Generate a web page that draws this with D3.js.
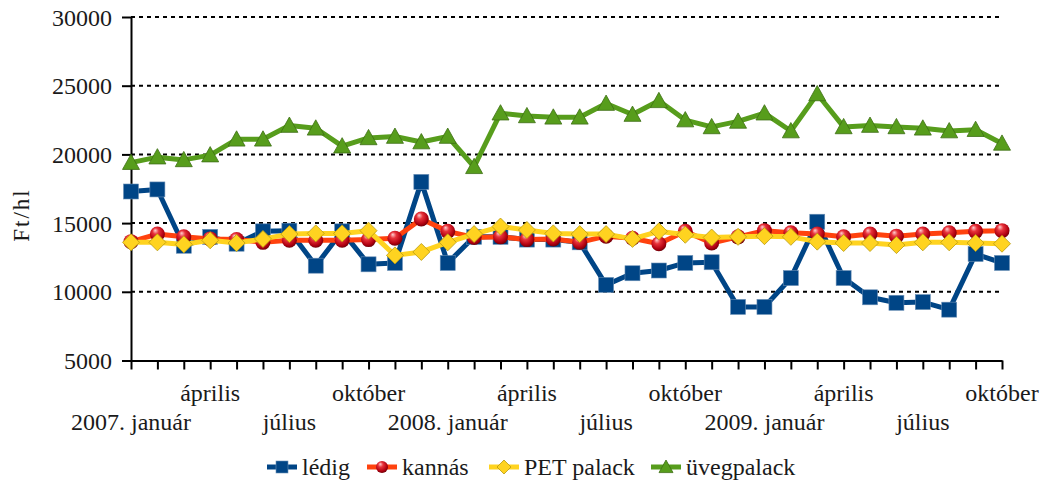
<!DOCTYPE html>
<html>
<head>
<meta charset="utf-8">
<script src="https://cdn.jsdelivr.net/npm/d3@7"></script>
<style>
  body { margin: 0; background: #fff; }
</style>
</head>
<body>
<svg id="chart" width="1052" height="485" font-family="'Liberation Serif', 'Times New Roman', serif"></svg>
<script>
// 2007. január .. 2009. október, monthly
const months = d3.range(34);
const xLabelsTop = { 3: "április", 9: "október", 15: "április", 21: "október", 27: "április", 33: "október" };
const xLabelsBottom = { 0: "2007. január", 6: "július", 12: "2008. január", 18: "július", 24: "2009. január", 30: "július" };
const yTicks = [5000, 10000, 15000, 20000, 25000, 30000];

const ledig = [17300, 17450, 13350, 14000, 13500, 14400, 14450, 11900, 14400, 12000,
  12100, 18000, 12100, 14000, 14000, 13800, 13800, 13600, 10500, 11350,
  11550, 12100, 12150, 8900, 8900, 11000, 15100, 11000, 9600, 9200,
  9250, 8700, 12750, 12100];
const kannas = [13650, 14200, 14000, 13850, 13800, 13600, 13750, 13750, 13750, 13800,
  13900, 15300, 14400, 13950, 14000, 13800, 13850, 13600, 14050, 13900,
  13500, 14400, 13550, 14000, 14450, 14300, 14200, 14000, 14200, 14050,
  14200, 14300, 14400, 14450];
const pet = [13600, 13600, 13450, 13750, 13550, 13850, 14200, 14250, 14250, 14450,
  12650, 12900, 13600, 14200, 14750, 14500, 14250, 14200, 14200, 13850,
  14400, 14150, 13950, 14000, 14050, 14000, 13650, 13550, 13550, 13400,
  13600, 13600, 13550, 13500];
const uveg = [19400, 19800, 19600, 19950, 21100, 21100, 22100, 21900, 20600, 21200,
  21300, 20900, 21300, 19100, 23000, 22800, 22700, 22700, 23700, 22900,
  23900, 22500, 22000, 22400, 23000, 21700, 24400, 22000, 22100, 22000,
  21900, 21700, 21800, 20800];

const seriesNames = ["lédig", "kannás", "PET palack", "üvegpalack"];
const seriesValues = [ledig, kannas, pet, uveg];
const seriesColors = ["#004586", "#ff420e", "#ffd320", "#579d1c"];
const seriesMarkers = ["square", "sphere", "diamond", "triangle"];

const FONT = "'Liberation Serif', 'Times New Roman', serif";
const plotLeft = 131, plotRight = 1002, plotTop = 17, plotBottom = 360.5;

const svg = d3.select("#chart");

// red sphere gradient
const defs = svg.append("defs");
const grad = defs.append("radialGradient").attr("id", "sphere")
  .attr("cx", "45%").attr("cy", "40%").attr("r", "60%")
  .attr("fx", "35%").attr("fy", "25%");
grad.append("stop").attr("offset", "0%").attr("stop-color", "#ffd0d0");
grad.append("stop").attr("offset", "35%").attr("stop-color", "#e8323a");
grad.append("stop").attr("offset", "80%").attr("stop-color", "#b00010");
grad.append("stop").attr("offset", "100%").attr("stop-color", "#700008");

const x = d3.scalePoint().domain(months).range([plotLeft, plotRight]);
const y = d3.scaleLinear().domain([5000, 30000]).range([plotBottom, plotTop]);

// gridlines
svg.append("g")
  .selectAll("line")
  .data(yTicks.filter(d => d > 5000))
  .enter().append("line")
  .attr("x1", plotLeft).attr("x2", plotRight)
  .attr("y1", d => y(d)).attr("y2", d => y(d))
  .attr("stroke", "#000")
  .attr("stroke-width", 2)
  .attr("stroke-dasharray", "4,4");

// y axis
const yAxis = svg.append("g")
  .attr("transform", "translate(" + plotLeft + ",0)")
  .call(d3.axisLeft(y).tickValues(yTicks).tickFormat(d3.format("d"))
    .tickSize(9).tickPadding(10).tickSizeOuter(0));
yAxis.attr("font-family", FONT).attr("font-size", 24);
yAxis.select(".domain").attr("stroke", "#000").attr("stroke-width", 2);
yAxis.selectAll(".tick line").attr("stroke", "#000").attr("stroke-width", 2);
yAxis.selectAll(".tick text").attr("fill", "#1a1a1a").attr("dy", "0.34em");

// x axis
const xAxis = svg.append("g")
  .attr("transform", "translate(0," + plotBottom + ")")
  .call(d3.axisBottom(x).tickSize(9).tickSizeOuter(0).tickFormat(""));
xAxis.select(".domain").attr("stroke", "#000").attr("stroke-width", 2);
xAxis.selectAll(".tick line").attr("stroke", "#000").attr("stroke-width", 2);

svg.append("g").selectAll("text")
  .data(Object.keys(xLabelsTop))
  .enter().append("text")
  .attr("x", d => x(+d)).attr("y", 401)
  .attr("text-anchor", "middle").attr("font-size", 24)
  .attr("font-family", FONT).attr("fill", "#1a1a1a")
  .text(d => xLabelsTop[d]);
svg.append("g").selectAll("text")
  .data(Object.keys(xLabelsBottom))
  .enter().append("text")
  .attr("x", d => x(+d)).attr("y", 430)
  .attr("text-anchor", "middle").attr("font-size", 24)
  .attr("font-family", FONT).attr("fill", "#1a1a1a")
  .text(d => xLabelsBottom[d]);

// y title
svg.append("text")
  .attr("transform", "translate(29,215) rotate(-90)")
  .attr("text-anchor", "middle").attr("font-size", 23)
  .attr("font-family", FONT).attr("fill", "#1a1a1a")
  .attr("letter-spacing", 2)
  .text("Ft/hl");

function drawMarker(g, type, color, s) {
  if (type === "square") {
    g.append("rect").attr("x", -s / 2).attr("y", -s / 2).attr("width", s).attr("height", s)
      .attr("fill", color).attr("stroke", "#6a8fb5").attr("stroke-width", 0.6);
  } else if (type === "sphere") {
    g.append("circle").attr("r", s / 2).attr("fill", "url(#sphere)");
  } else if (type === "diamond") {
    const h = s / 2 + 1;
    g.append("path").attr("d", `M0,${-h}L${h},0L0,${h}L${-h},0Z`)
      .attr("fill", color).attr("stroke", "#b89a10").attr("stroke-width", 0.8);
  } else {
    const h = s / 2 + 1;
    g.append("path").attr("d", `M0,${-h}L${h},${h * 0.8}L${-h},${h * 0.8}Z`)
      .attr("fill", color).attr("stroke", "#3d6e14").attr("stroke-width", 0.8);
  }
}

const line = d3.line().x((d, i) => x(i)).y(d => y(d));

seriesValues.forEach((vals, k) => {
  const g = svg.append("g");
  g.append("path").datum(vals)
    .attr("d", line)
    .attr("fill", "none")
    .attr("stroke", seriesColors[k])
    .attr("stroke-width", 5)
    .attr("stroke-linejoin", "round");
  g.selectAll("g.m").data(vals).enter().append("g")
    .attr("class", "m")
    .attr("transform", (d, i) => "translate(" + x(i) + "," + y(d) + ")")
    .each(function () { drawMarker(d3.select(this), seriesMarkers[k], seriesColors[k], 15); });
});

// legend
const legendX = [267, 367, 489, 651];
const legendY = 467;
seriesNames.forEach((name, k) => {
  const g = svg.append("g").attr("transform", "translate(" + legendX[k] + "," + legendY + ")");
  g.append("line").attr("x1", 0).attr("x2", 30).attr("y1", 0).attr("y2", 0)
    .attr("stroke", seriesColors[k]).attr("stroke-width", 5);
  const m = g.append("g").attr("transform", "translate(15,0)");
  drawMarker(m, seriesMarkers[k], seriesColors[k], 12);
  g.append("text").attr("x", 35).attr("y", 0).attr("dy", "0.32em")
    .attr("font-size", 24).attr("font-family", FONT).attr("fill", "#1a1a1a")
    .text(name);
});
</script>
</body>
</html>
